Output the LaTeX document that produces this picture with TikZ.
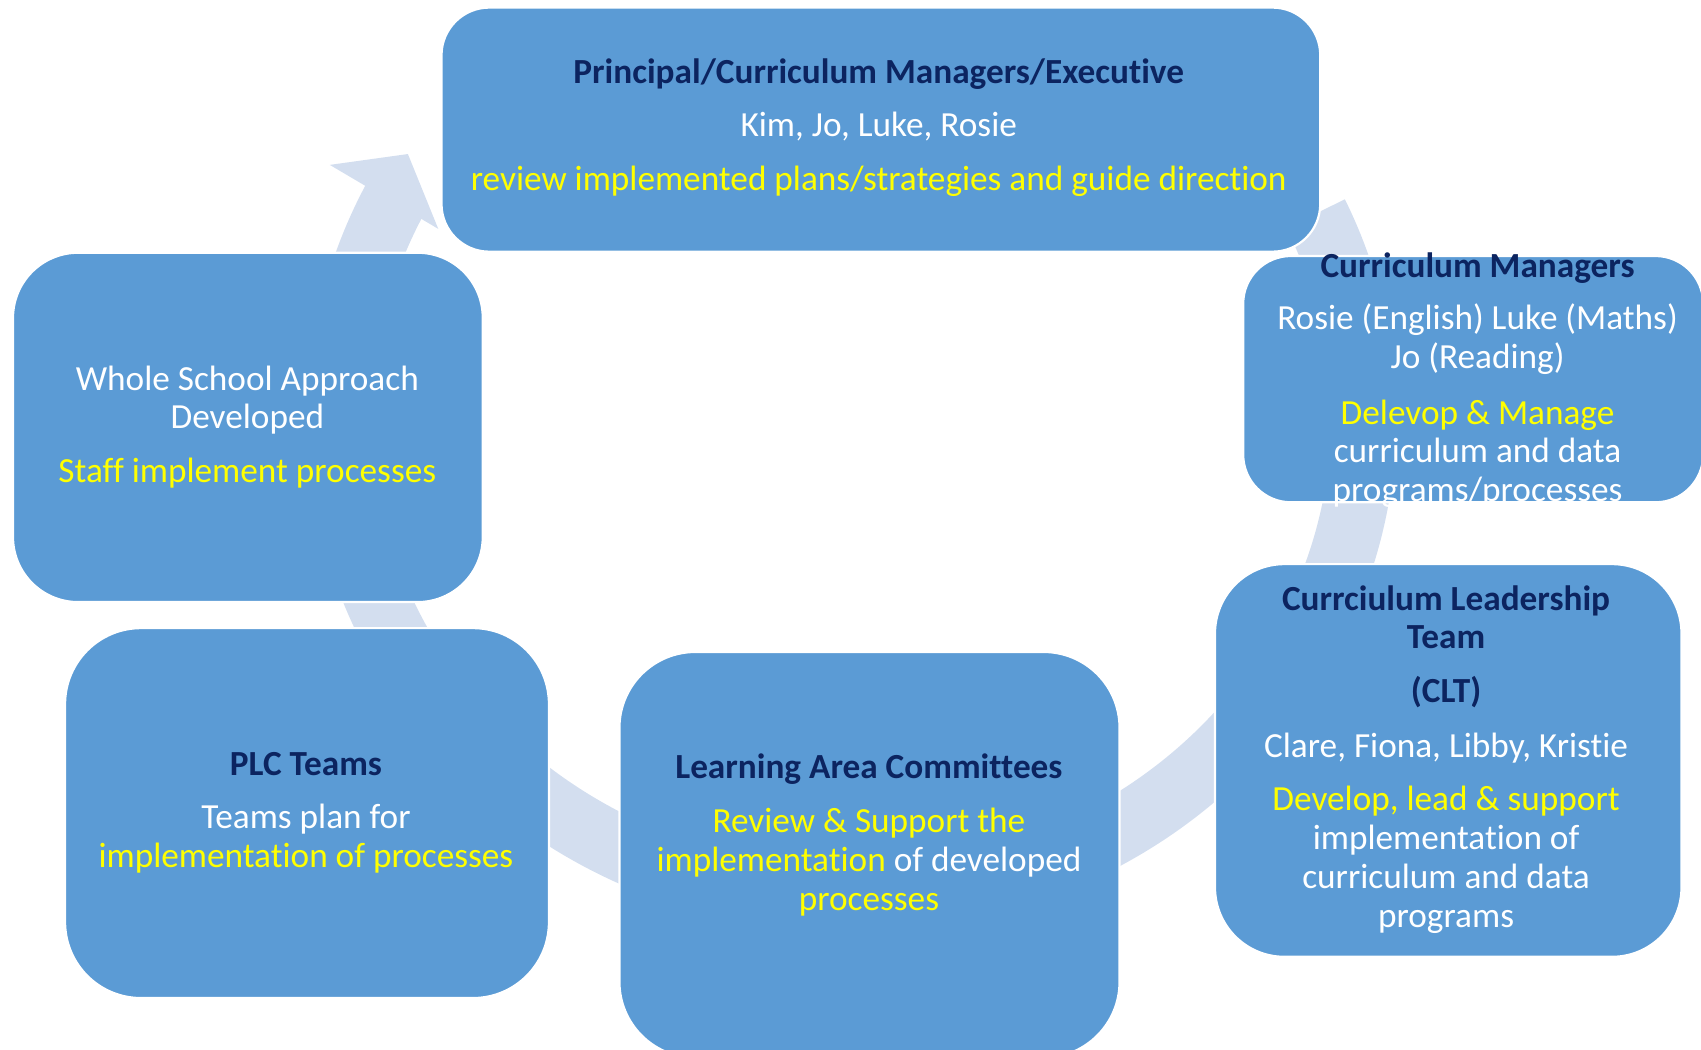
\documentclass[tikz,border=0pt]{standalone}
\usepackage{fontspec}
\setmainfont{Carlito}[Ligatures={NoCommon}]
\definecolor{boxblue}{HTML}{5B9BD5}
\definecolor{ringblue}{HTML}{D3DEEF}
\definecolor{navy}{HTML}{0C2460}
\definecolor{yel}{HTML}{FFFF00}
\tikzset{
  box/.style={draw=white, line width=1pt, fill=boxblue, rounded corners=#1, inner sep=0pt},
  txt/.style={inner sep=0pt, anchor=base, font=\fontsize{16.25}{18}\selectfont, text=white},
  ttl/.style={txt, font=\fontsize{16.25}{18}\selectfont\bfseries, text=navy},
  ytxt/.style={txt, text=yel},
  ring/.style={draw=ringblue, line width=30pt},
}
\begin{document}
\begin{tikzpicture}[x=0.5pt, y=-0.5pt]
\useasboundingbox (0,0) rectangle (1568,967);
\clip (0,0) rectangle (1568,967);
% circular arrow
\coordinate (c) at (785,385);
\draw[ring] (c) ++(-25:472 and 445) arc[start angle=-25, end angle=207, x radius=472, y radius=445];
\coordinate (hl) at (304,152);
\coordinate (ht) at (376,142);
\coordinate (hr) at (404,211);
\fill[ringblue] (hl) -- (ht) -- (hr) -- cycle;
% boxes
\node[box=22pt, minimum width=405pt, minimum height=112.5pt] (top) at (812,119.5) {};
\node[box=22pt, minimum width=212pt, minimum height=113.5pt] (cm) at (1358,349.5) {};
\node[box=32pt, minimum width=215pt, minimum height=181pt] (clt) at (1335,701) {};
\node[box=35pt, minimum width=230.5pt, minimum height=187pt] (lac) at (801.5,788) {};
\node[box=35pt, minimum width=223pt, minimum height=170.5pt] (plc) at (283,749.5) {};
\node[box=30pt, minimum width=216.5pt, minimum height=161pt] (ws) at (228.5,394) {};
% top box text
\node[ttl] (t1) at (810,77) {Principal/Curriculum Managers/Executive};
\node[txt] (t2) at (810,126) {Kim, Jo, Luke, Rosie};
\node[ytxt] (t3) at (810,176) {review implemented plans/strategies and guide direction};
% curriculum managers
\node[ttl] (m1) at (1362,256) {Curriculum Managers};
\node[txt] (m2) at (1362,304) {Rosie (English) Luke (Maths)};
\node[txt] (m3) at (1362,340) {Jo (Reading)};
\node[ytxt] (m4) at (1362,391) {Delevop \& Manage};
\node[txt] (m5) at (1362,426) {curriculum and data};
\node[txt] (m6) at (1362,462) {programs/processes};
% CLT
\node[ttl] (c1) at (1333,563) {Currciulum Leadership};
\node[ttl] (c2) at (1333,598) {Team};
\node[ttl] (c3) at (1333,648) {(CLT)};
\node[txt] (c4) at (1333,698) {Clare, Fiona, Libby, Kristie};
\node[ytxt] (c5) at (1333,747) {Develop, lead \& support};
\node[txt] (c6) at (1333,783) {implementation of};
\node[txt] (c7) at (1333,819) {curriculum and data};
\node[txt] (c8) at (1333,855) {programs};
% LAC
\node[ttl] (l1) at (801,718) {Learning Area Committees};
\node[ytxt] (l2) at (801,767) {Review \& Support the};
\node[txt] (l3) at (801,803) {\textcolor{yel}{implementation} of developed};
\node[ytxt] (l4) at (801,839) {processes};
% PLC
\node[ttl] (p1) at (282,715) {PLC Teams};
\node[txt] (p2) at (282,764) {Teams plan for};
\node[ytxt] (p3) at (282,800) {implementation of processes};
% Whole school
\node[txt] (w1) at (228,360) {Whole School Approach};
\node[txt] (w2) at (228,395) {Developed};
\node[ytxt] (w3) at (228,445) {Staff implement processes};
\end{tikzpicture}
\end{document}
